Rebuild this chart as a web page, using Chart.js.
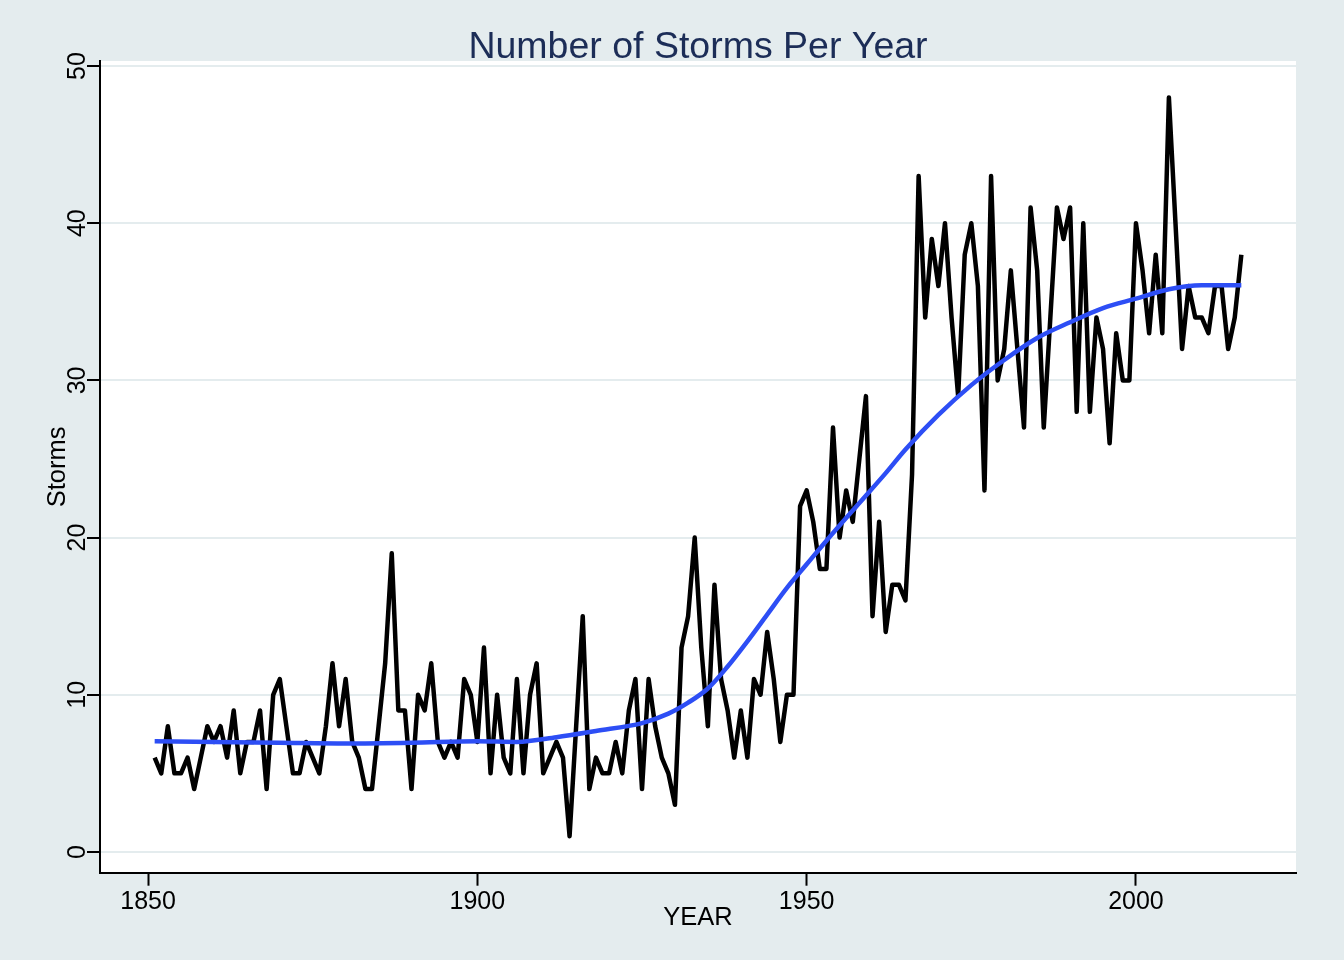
<!DOCTYPE html>
<html>
<head>
<meta charset="utf-8">
<script src="https://cdn.jsdelivr.net/npm/chart.js@4.4.0/dist/chart.umd.min.js"></script>
<style>
  html, body { margin: 0; padding: 0; background: #e4ecee; }
  #wrap { width: 1344px; height: 960px; }
</style>
</head>
<body>
<div id="wrap"><canvas id="tormentas" width="1344" height="960"></canvas></div>
<script>
const years = [
  1851,1852,1853,1854,1855,1856,1857,1858,1859,1860,
  1861,1862,1863,1864,1865,1866,1867,1868,1869,1870,
  1871,1872,1873,1874,1875,1876,1877,1878,1879,1880,
  1881,1882,1883,1884,1885,1886,1887,1888,1889,1890,
  1891,1892,1893,1894,1895,1896,1897,1898,1899,1900,
  1901,1902,1903,1904,1905,1906,1907,1908,1909,1910,
  1911,1912,1913,1914,1915,1916,1917,1918,1919,1920,
  1921,1922,1923,1924,1925,1926,1927,1928,1929,1930,
  1931,1932,1933,1934,1935,1936,1937,1938,1939,1940,
  1941,1942,1943,1944,1945,1946,1947,1948,1949,1950,
  1951,1952,1953,1954,1955,1956,1957,1958,1959,1960,
  1961,1962,1963,1964,1965,1966,1967,1968,1969,1970,
  1971,1972,1973,1974,1975,1976,1977,1978,1979,1980,
  1981,1982,1983,1984,1985,1986,1987,1988,1989,1990,
  1991,1992,1993,1994,1995,1996,1997,1998,1999,2000,
  2001,2002,2003,2004,2005,2006,2007,2008,2009,2010,
  2011,2012,2013,2014,2015,2016
];
const storms = [
  6,5,8,5,5,6,4,6,8,7,
  8,6,9,5,7,7,9,4,10,11,
  8,5,5,7,6,5,8,12,8,11,
  7,6,4,4,8,12,19,9,9,4,
  10,9,12,7,6,7,6,11,10,7,
  13,5,10,6,5,11,5,10,12,5,
  6,7,6,1,8,15,4,6,5,5,
  7,5,9,11,4,11,8,6,5,3,
  13,15,20,13,8,17,11,9,6,9,
  6,11,10,14,11,7,10,10,22,23,
  21,18,18,27,20,23,21,25,29,15,
  21,14,17,17,16,24,43,34,39,36,
  40,34,29,38,40,36,23,43,30,32,
  37,32,27,41,37,27,34,41,39,41,
  28,40,28,34,32,26,33,30,30,40,
  37,33,38,33,48,40,32,36,34,34,
  33,36,36,32,34,38
];
// smooth fitted curve
const fitYears = [1851,1860,1870,1880,1890,1900,1906,1912,1918,1925,1929,1932,1935,1938,1941,1944,1947,1950,1953,1958,1962,1965,1970,1975,1980,1985,1990,1995,2000,2005,2010,2016];
const fitStorms = [7.05,7.0,6.95,6.9,6.95,7.05,7.0,7.3,7.7,8.2,8.8,9.5,10.4,11.8,13.4,15.1,16.8,18.3,19.8,22.2,24.1,25.6,27.8,29.7,31.3,32.7,33.7,34.6,35.2,35.8,36.05,36.05];

const yTicks = [0, 10, 20, 30, 40, 50];
const xTicks = [1850, 1900, 1950, 2000];

const fondo = '#e4ecee';
const fuente = "'Liberation Sans', Arial, Helvetica, sans-serif";

const fondoPlugin = {
  id: 'fondo',
  beforeDraw(chart) {
    const ctx = chart.ctx;
    const a = chart.chartArea;
    ctx.save();
    ctx.fillStyle = fondo;
    ctx.fillRect(0, 0, chart.width, chart.height);
    ctx.fillStyle = '#ffffff';
    ctx.fillRect(a.left, a.top, a.right - a.left, a.bottom - a.top);
    ctx.restore();
  }
};

const tituloPlugin = {
  id: 'titulo',
  afterDraw(chart) {
    const ctx = chart.ctx;
    const a = chart.chartArea;
    ctx.save();
    ctx.font = '37.5px ' + fuente;
    ctx.fillStyle = '#1c2d57';
    ctx.textAlign = 'center';
    ctx.textBaseline = 'middle';
    ctx.fillText('Number of Storms Per Year', (a.left + a.right) / 2, 48);
    ctx.restore();
  }
};

function grafico_tormentas() {
  const ctx = document.getElementById('tormentas');

  new Chart(ctx, {
    type: 'line',
    data: {
      datasets: [{
        label: 'Fit',
        data: fitYears.map((y, i) => ({ x: y, y: fitStorms[i] })),
        borderColor: '#2d4ef5',
        borderWidth: 4.5,
        pointRadius: 0,
        cubicInterpolationMode: 'monotone'
      }, {
        label: 'Storms',
        data: years.map((y, i) => ({ x: y, y: storms[i] })),
        borderColor: '#000000',
        borderWidth: 4.5,
        borderJoinStyle: 'round',
        pointRadius: 0,
        tension: 0
      }]
    },
    options: {
      responsive: false,
      animation: false,
      devicePixelRatio: 1,
      layout: { padding: { top: 61, right: 48, bottom: 0, left: 0 } },
      plugins: {
        legend: { display: false },
        tooltip: { enabled: false }
      },
      scales: {
        x: {
          type: 'linear',
          min: 1842.7,
          max: 2024.3,
          afterBuildTicks: s => { s.ticks = xTicks.map(v => ({ value: v })); },
          afterFit: s => { s.height = 87.3; },
          grid: { drawOnChartArea: false, tickLength: 13, tickColor: '#000', tickWidth: 2 },
          border: { color: '#000', width: 2 },
          ticks: {
            color: '#000',
            font: { family: fuente, size: 25 },
            padding: 1,
            maxRotation: 0,
            callback: v => String(v)
          },
          title: {
            display: true,
            text: 'YEAR',
            color: '#000',
            font: { family: fuente, size: 25.5 },
            padding: { top: 0, bottom: 27 }
          }
        },
        y: {
          min: -1.32,
          max: 50.32,
          afterBuildTicks: s => { s.ticks = yTicks.map(v => ({ value: v })); },
          afterFit: s => { s.width = 100; },
          grid: { color: fondo, lineWidth: 2, tickLength: 13, tickColor: '#000', tickWidth: 2 },
          border: { color: '#000', width: 2 },
          ticks: {
            color: '#000',
            font: { family: fuente, size: 25 },
            padding: -5,
            minRotation: 90,
            maxRotation: 90,
            crossAlign: 'center',
            callback: v => String(v)
          },
          title: {
            display: true,
            text: 'Storms',
            color: '#000',
            font: { family: fuente, size: 25.5 },
            padding: { top: 43, bottom: 0 }
          }
        }
      }
    },
    plugins: [fondoPlugin, tituloPlugin]
  });
}

grafico_tormentas();
</script>
</body>
</html>
